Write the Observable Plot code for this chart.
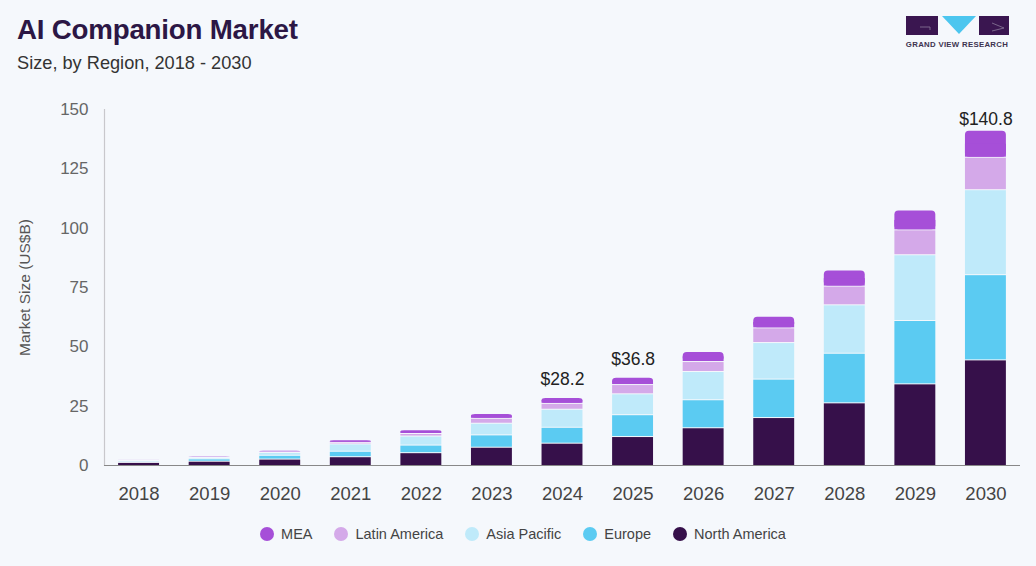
<!DOCTYPE html>
<html>
<head>
<meta charset="utf-8">
<script src="https://cdn.jsdelivr.net/npm/d3@7"></script>
<script src="https://cdn.jsdelivr.net/npm/@observablehq/plot@0.6"></script>
<style>
  html, body { margin: 0; padding: 0; background: #f5f8fc; }
  body { width: 1036px; height: 566px; position: relative; overflow: hidden; font-family: "Liberation Sans", Arial, sans-serif; }
  #title { position: absolute; left: 17px; top: 14px; font-size: 27.7px; font-weight: bold; color: #2c1745; letter-spacing: -0.2px; }
  #subtitle { position: absolute; left: 17px; top: 53px; font-size: 18.2px; color: #333; }
  #logo { position: absolute; left: 900px; top: 12px; }
  #chart { position: absolute; left: 0; top: 90px; }
  #legend { position: absolute; left: 0; width: 1036px; top: 526px; display: flex; justify-content: center; gap: 22px; font-size: 14.5px; color: #444; padding-left: 10px; box-sizing: border-box; }
  #legend .item { display: flex; align-items: center; gap: 7px; }
  #legend .dot { width: 14px; height: 14px; border-radius: 50%; display: inline-block; }
</style>
</head>
<body>
<div id="title">AI Companion Market</div>
<div id="subtitle">Size, by Region, 2018 - 2030</div>
<svg id="logo" width="120" height="40" viewBox="0 0 120 40">
  <rect x="6" y="4" width="32" height="19" fill="#3a1650"/>
  <path d="M20 15 H30 V18" stroke="#8a7a99" stroke-width="0.8" fill="none"/>
  <path d="M42 4 L76 4 L59 22 Z" fill="#4cc6ef"/>
  <rect x="79" y="4" width="30" height="19" fill="#3a1650"/>
  <path d="M92 11 L104 16 L92 19" stroke="#8a7a99" stroke-width="0.8" fill="none"/>
  <text x="57" y="35" text-anchor="middle" font-size="7.8" font-weight="bold" fill="#3d3450" font-family="Liberation Sans, Arial, sans-serif" letter-spacing="0.3">GRAND VIEW RESEARCH</text>
</svg>
<div id="chart"></div>
<div id="legend"></div>
<script>
const years = ["2018","2019","2020","2021","2022","2023","2024","2025","2026","2027","2028","2029","2030"];
const regions = ["North America","Europe","Asia Pacific","Latin America","MEA"];
const northAmerica = [1.3,1.8,2.7,3.7,5.4,7.7,9.4,12.2,15.9,20.2,26.4,34.4,44.5];
const europe       = [0.5,1.0,1.6,2.3,3.2,5.2,6.7,9.2,11.8,16.2,20.9,26.7,35.9];
const asiaPacific  = [0.3,0.6,1.2,3.1,3.8,4.9,7.6,8.8,11.9,15.4,20.4,27.7,35.8];
const latinAmerica = [0.1,0.2,0.3,0.7,1.1,2.1,2.5,3.9,4.2,6.2,7.9,10.5,13.7];
const mea          = [0.05,0.1,0.2,0.6,1.1,1.6,2.0,2.7,3.8,4.5,6.3,7.9,10.9];
const colors = ["#36104a","#5bcbf2","#bfeafa","#d4a9e9","#a64fd8"];
const labelYears = ["2024","2025","2030"];
const yTicks = [0,25,50,75,100,125,150];
const legendOrder = ["MEA","Latin America","Asia Pacific","Europe","North America"];

const series = [northAmerica, europe, asiaPacific, latinAmerica, mea];
const rows = [];
years.forEach((yr, i) => regions.forEach((r, j) => rows.push({year: yr, region: r, value: series[j][i]})));
const lower = rows.filter(d => d.region !== "MEA");
const meaRows = years.map((yr, i) => {
  const base = northAmerica[i] + europe[i] + asiaPacific[i] + latinAmerica[i];
  return {year: yr, base, top: base + mea[i], mid: base + mea[i] / 2};
});
const totals = meaRows.filter(d => labelYears.includes(d.year));
const totalsMid = totals.filter(d => d.year !== "2030");
const totalsLast = totals.filter(d => d.year === "2030");
const fmt = d => "$" + d.top.toFixed(1);

const chart = Plot.plot({
  width: 1036,
  height: 420,
  marginTop: 19,
  marginBottom: 45,
  marginLeft: 104,
  marginRight: 16,
  style: {background: "transparent", fontFamily: "Liberation Sans, Arial, sans-serif"},
  x: {domain: years, paddingInner: 0.42, paddingOuter: 0.2, round: false, label: null},
  y: {domain: [0, 150], label: null},
  color: {domain: regions, range: colors},
  marks: [
    Plot.frame({anchor: "left", stroke: "#c8c8cc", strokeWidth: 1.2}),
    Plot.axisY({ticks: yTicks, tickSize: 0, tickPadding: 16, fontSize: 17, fill: "#666", label: null}),
    Plot.text(["Market Size (US$B)"], {frameAnchor: "left", textAnchor: "middle", dx: -79, rotate: -90, fontSize: 15.5, fill: "#555", text: d => d}),
    Plot.axisX({tickSize: 0, tickPadding: 21, fontSize: 18.5, fill: "#444", label: null}),
    Plot.barY(lower, {x: "year", y: "value", fill: "region", order: regions, insetTop: 1}),
    Plot.barY(meaRows, {x: "year", y1: "base", y2: "top", fill: colors[4], rx: 4}),
    Plot.barY(meaRows, {x: "year", y1: "base", y2: "mid", fill: colors[4]}),
    Plot.ruleY([0], {stroke: "#888", strokeWidth: 1.2}),
    Plot.text(totalsMid, {x: "year", y: "top", text: fmt, dy: -19, fontSize: 17.5, fill: "#222"}),
    Plot.text(totalsLast, {x: "year", y: "top", text: fmt, dy: -12, fontSize: 17.5, fill: "#222"})
  ]
});
document.getElementById("chart").appendChild(chart);

const legend = document.getElementById("legend");
legendOrder.forEach(name => {
  const item = document.createElement("div");
  item.className = "item";
  const dot = document.createElement("span");
  dot.className = "dot";
  dot.style.background = colors[regions.indexOf(name)];
  const label = document.createElement("span");
  label.textContent = name;
  item.appendChild(dot);
  item.appendChild(label);
  legend.appendChild(item);
});
</script>
</body>
</html>
